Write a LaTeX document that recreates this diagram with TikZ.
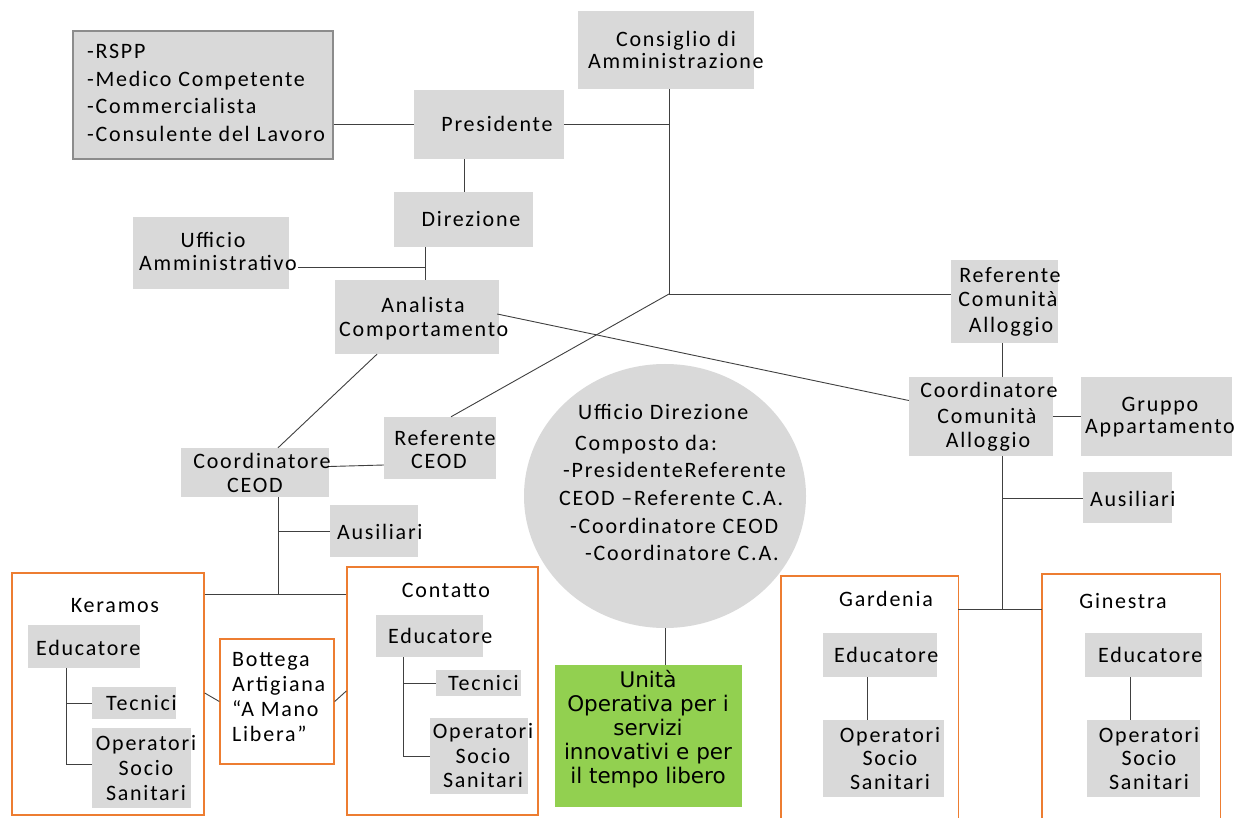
\documentclass[tikz,border=0pt]{standalone}
\usepackage{fontspec}
\setmainfont{Carlito}[LetterSpace=8]
\newfontfamily\gfont{DejaVu Sans}
\usetikzlibrary{shapes.geometric,calc}
\definecolor{boxgray}{HTML}{D9D9D9}
\definecolor{rsppgray}{HTML}{8C8C8C}
\definecolor{orng}{HTML}{ED7D31}
\definecolor{unitgreen}{HTML}{92D050}
\definecolor{lngray}{HTML}{404040}
\newcommand\putt[4][t]{\node[#1] (#2) at (#3) {#4};}
\begin{document}
\begin{tikzpicture}[x=1pt,y=-1pt,
  gbox/.style={rectangle,fill=boxgray,draw=none,inner sep=0pt},
  ostroke/.style={draw=orng,line width=1.4pt},
  obox/.style={rectangle,ostroke,inner sep=0pt},
  ln/.style={draw=lngray,line width=0.9pt},
  t/.style={inner sep=0pt,anchor=base,font=\fontsize{22}{26}\selectfont},
  tw/.style={t,anchor=base west},
  gt/.style={inner sep=0pt,anchor=base,font=\gfont\fontsize{21.5}{25}\selectfont}]
\useasboundingbox (0,0) rectangle (1243,818);
\fill[white] (0,0) rectangle (1243,818);
% boxes
\node[gbox,draw=rsppgray,line width=1.5pt,minimum width=260,minimum height=128] (rspp) at (203,95) {};
\node[gbox,minimum width=176,minimum height=78] (cons) at (666,50) {};
\node[gbox,minimum width=150,minimum height=69] (pres) at (489,124.5) {};
\node[gbox,minimum width=139,minimum height=55] (dir) at (463.5,219.5) {};
\node[gbox,minimum width=156,minimum height=72] (uff) at (211,253) {};
\node[gbox,minimum width=164,minimum height=74] (anal) at (417,317) {};
\node[gbox,minimum width=112,minimum height=62] (refceod) at (440,448) {};
\node[gbox,minimum width=148,minimum height=49] (coordceod) at (255,472.5) {};
\node[gbox,minimum width=88,minimum height=52] (ausL) at (374,531) {};
\node[gbox,minimum width=107,minimum height=83] (refca) at (1004.5,301.5) {};
\node[gbox,minimum width=144,minimum height=79] (coordca) at (981,416.5) {};
\node[gbox,minimum width=151,minimum height=79] (grup) at (1156.5,416.5) {};
\node[gbox,minimum width=89,minimum height=51] (ausR) at (1127.5,497.5) {};
\node[ellipse,fill=boxgray,inner sep=0pt,minimum width=282,minimum height=264] (circ) at (665,496) {};
\node[rectangle,fill=unitgreen,inner sep=0pt,minimum width=187,minimum height=142] (green) at (648.5,736) {};
\node[obox,minimum width=192,minimum height=242] (ker) at (108,694) {};
\node[gbox,minimum width=112,minimum height=43] (kedu) at (84,646.5) {};
\node[gbox,minimum width=84,minimum height=32] (ktec) at (134,703) {};
\node[gbox,minimum width=99,minimum height=80] (kop) at (141.5,768) {};
\node[obox,minimum width=114,minimum height=125] (bott) at (277,701.5) {};
\node[obox,minimum width=191,minimum height=248] (cont) at (442.5,691) {};
\node[gbox,minimum width=107,minimum height=42] (cedu) at (429.5,636) {};
\node[gbox,minimum width=85,minimum height=26] (ctec) at (478.5,683) {};
\node[gbox,minimum width=98,minimum height=76] (cop) at (479,756) {};
\node[rectangle,inner sep=0pt,minimum width=177,minimum height=242] (gard) at (869.5,697) {};
\draw[ostroke] (gard.south west) -- (gard.north west) -- (gard.north east) -- (gard.south east);
\node[gbox,minimum width=114,minimum height=44] (gedu) at (880,655) {};
\node[gbox,minimum width=121,minimum height=77] (gop) at (883.5,758.5) {};
\node[rectangle,inner sep=0pt,minimum width=178,minimum height=244] (gine) at (1131,696) {};
\draw[ostroke] (gine.south west) -- (gine.north west) -- (gine.north east) -- (gine.south east);
\node[gbox,minimum width=117,minimum height=44] (iedu) at (1143.5,655) {};
\node[gbox,minimum width=113,minimum height=77] (iop) at (1143.5,758.5) {};
% connectors
\coordinate (j1) at (669,294);
\draw[ln] (rspp.east |- pres.west) -- (pres.west);
\draw[ln] (pres.east) -- (pres.east -| j1);
\draw[ln] (cons.south -| j1) -- (j1) -- (j1 -| refca.west);
\draw[ln] (j1) -- ($(refceod.north)+(11,0)$);
\coordinate (p1) at (464,0);
\draw[ln] (pres.south -| p1) -- (dir.north -| p1);
\coordinate (j2) at (425,267);
\draw[ln] (dir.south -| j2) -- (anal.north -| j2);
\draw[ln] ($(uff.east |- j2)+(9,0)$) -- (j2);
\draw[ln] ($(anal.east)+(-2,-3)$) -- ($(coordca.west)+(0,-16)$);
\draw[ln] ($(anal.south)+(-40,0)$) -- ($(coordceod.north)+(23,0)$);
\draw[ln] ($(coordceod.east)+(0,-6)$) -- ($(refceod.west)+(0,17)$);
\coordinate (j3) at (278,531);
\coordinate (j4) at (278,594);
\draw[ln] (coordceod.south -| j3) -- (j4);
\draw[ln] (j3) -- (ausL.west |- j3);
\draw[ln] (ker.east |- j4) -- (cont.west |- j4);
\draw[ln] ($(ker.east)+(0,-1)$) -- (bott.west);
\draw[ln] (bott.east) -- (cont.west);
\coordinate (k1) at (66,703);
\coordinate (k2) at (66,764);
\draw[ln] (kedu.south -| k1) -- (k2);
\draw[ln] (k1) -- (ktec.west);
\draw[ln] (k2) -- (kop.west |- k2);
\coordinate (c1) at (403,683);
\coordinate (c2) at (403,756);
\draw[ln] (cedu.south -| c1) -- (c2);
\draw[ln] (c1) -- (ctec.west);
\draw[ln] (c2) -- (cop.west |- c2);
\draw[ln] (circ.south) -- (circ.south |- green.north);
\coordinate (r0) at (1002,498);
\coordinate (r1) at (1002,609);
\draw[ln] (refca.south -| r0) -- (coordca.north -| r0);
\draw[ln] (coordca.east) -- (grup.west);
\draw[ln] (coordca.south -| r0) -- (r1);
\draw[ln] (r0) -- (ausR.west |- r0);
\draw[ln] (gard.east |- r1) -- (gine.west |- r1);
\coordinate (g1) at (867,0);
\coordinate (i1) at (1130,0);
\draw[ln] (gedu.south -| g1) -- (gop.north -| g1);
\draw[ln] (iedu.south -| i1) -- (iop.north -| i1);
% texts
\putt[tw]{ra}{87,59}{-RSPP}
\putt[tw]{rb}{87,87}{-Medico Competente}
\putt[tw]{rc}{87,114}{-Commercialista}
\putt[tw]{rd}{87,142}{-Consulente del Lavoro}
\putt{ca}{676,47}{Consiglio di}
\putt[tw]{cb}{588,69}{Amministrazione}
\putt{pa}{497,132}{Presidente}
\putt{da}{471,227}{Direzione}
\putt{ua}{213,248}{Ufficio}
\putt[tw]{ub}{139,271}{Amministrativo}
\putt{aa}{423,313}{Analista}
\putt[tw]{ab}{339,337}{Comportamento}
\putt{rca}{445,445}{Referente}
\putt{rcb}{439,468}{CEOD}
\putt{cca}{262,468}{Coordinatore}
\putt{ccb}{255,492}{CEOD}
\putt[tw]{ala}{337,539}{Ausiliari}
\putt{raa}{1010,283}{Referente}
\putt{rab}{1008,307}{Comunità}
\putt{rac}{1011,333}{Alloggio}
\putt{caa}{989,398}{Coordinatore}
\putt{cab}{987,423}{Comunità}
\putt{cac}{988,447}{Alloggio}
\putt{gpa}{1160,411}{Gruppo}
\putt{gpb}{1160,433}{Appartamento}
\putt[tw]{ara}{1090,506}{Ausiliari}
\putt[tw]{u1}{578,420}{Ufficio Direzione}
\putt[tw]{u2}{575,450}{Composto da:}
\putt[tw]{u3}{563,477}{-PresidenteReferente}
\putt[tw]{u4}{559,505}{CEOD –Referente C.A.}
\putt[tw]{u5}{570,533}{-Coordinatore CEOD}
\putt[tw]{u6}{585,560}{-Coordinatore C.A.}
\putt[gt]{v1}{648,687}{Unità}
\putt[gt]{v2}{648,711}{Operativa per i}
\putt[gt]{v3}{648,735}{servizi}
\putt[gt]{v4}{648,759}{innovativi e per}
\putt[gt]{v5}{648,783}{il tempo libero}
\putt{ka}{115,612}{Keramos}
\putt[tw]{kb}{36,655}{Educatore}
\putt[tw]{kc}{106,710}{Tecnici}
\putt{kd}{146,750}{Operatori}
\putt{ke}{146,775}{Socio}
\putt{kf}{146,800}{Sanitari}
\putt[tw]{ba}{232,666}{Bottega}
\putt[tw]{bb}{232,691}{Artigiana}
\putt[tw]{bc}{232,716}{“A Mano}
\putt[tw]{bd}{232,741}{Libera”}
\putt{cta}{446,597}{Contatto}
\putt[tw]{ctb}{388,643}{Educatore}
\putt[tw]{ctc}{448,690}{Tecnici}
\putt{ctd}{483,738}{Operatori}
\putt{cte}{483,763}{Socio}
\putt{ctf}{483,787}{Sanitari}
\putt{gda}{886,606}{Gardenia}
\putt[tw]{gdb}{834,662}{Educatore}
\putt{gdc}{890,742}{Operatori}
\putt{gdd}{890,765}{Socio}
\putt{gde}{890,789}{Sanitari}
\putt{gna}{1123,608}{Ginestra}
\putt[tw]{gnb}{1098,662}{Educatore}
\putt{gnc}{1149,742}{Operatori}
\putt{gnd}{1149,765}{Socio}
\putt{gne}{1149,789}{Sanitari}
\end{tikzpicture}
\end{document}
